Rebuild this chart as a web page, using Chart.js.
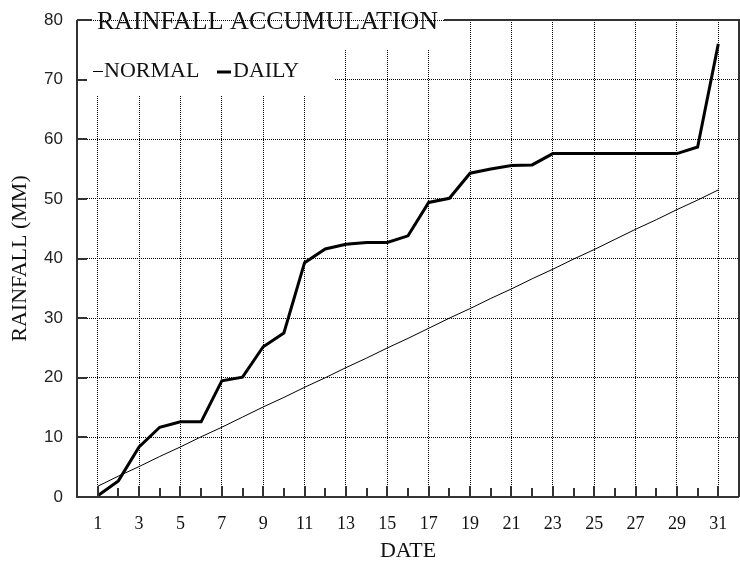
<!DOCTYPE html>
<html>
<head>
<meta charset="utf-8">
<script src="https://cdn.jsdelivr.net/npm/chart.js@4.4.0/dist/chart.umd.min.js"></script>
<style>
  html, body { margin: 0; padding: 0; background: #fff; }
  #wrap { width: 740px; height: 563px; }
</style>
</head>
<body>
<div id="wrap"><canvas id="chart"></canvas></div>
<script>
// day of month
var dates = [1, 2, 3, 4, 5, 6, 7, 8, 9, 10, 11, 12, 13, 14, 15, 16,
             17, 18, 19, 20, 21, 22, 23, 24, 25, 26, 27, 28, 29, 30, 31];
// accumulated normal rainfall (mm)
var normalRain = [1.8, 3.5, 5.1, 6.8, 8.4, 10.1, 11.7, 13.4, 15.1, 16.7, 18.4, 20.0, 21.7, 23.3, 25.0, 26.6,
                  28.3, 30.0, 31.6, 33.3, 34.9, 36.6, 38.2, 39.9, 41.5, 43.2, 44.9, 46.5, 48.2, 49.8, 51.5];
// accumulated daily rainfall (mm)
var dailyRain = [0.2, 2.7, 8.4, 11.7, 12.6, 12.6, 19.5, 20.1, 25.2, 27.5, 39.3, 41.6, 42.4, 42.7, 42.7, 43.8,
                 49.4, 50.1, 54.3, 55.0, 55.6, 55.7, 57.6, 57.6, 57.6, 57.6, 57.6, 57.6, 57.6, 58.7, 76.0];
var yTicks = [0, 10, 20, 30, 40, 50, 60, 70, 80];
var xLabels = [1, 3, 5, 7, 9, 11, 13, 15, 17, 19, 21, 23, 25, 27, 29, 31];

var SERIF = '"Liberation Serif", "DejaVu Serif", serif';

function toPoints(vals) {
    return dates.map(function (d, i) { return { x: d, y: vals[i] }; });
}

// frame, inward ticks, title and legend drawn like the old chart
var framePlugin = {
    id: 'frame',
    beforeDatasetsDraw: function (chart) {
        var c = chart.ctx, a = chart.chartArea;
        c.save();
        c.fillStyle = '#fff';
        // clear grid behind title and legend
        c.fillRect(a.left + 1, a.top + 1, 447 - a.left, 48 - a.top);
        c.fillRect(a.left + 1, a.top + 1, 334 - a.left, 95 - a.top);
        c.restore();
    },
    afterDraw: function (chart) {
        var c = chart.ctx, a = chart.chartArea;
        var xs = chart.scales.x, ys = chart.scales.y;
        c.save();
        c.strokeStyle = '#333';
        c.lineWidth = 2;
        c.beginPath();
        // left + bottom axis
        c.moveTo(a.left, a.top);
        c.lineTo(a.left, a.bottom);
        c.lineTo(a.right, a.bottom);
        // right border
        c.moveTo(a.right, a.bottom);
        c.lineTo(a.right, a.top);
        // top border, broken by the title
        c.lineTo(444, a.top);
        c.moveTo(a.left, a.top);
        c.lineTo(92, a.top);
        c.stroke();

        // inward ticks
        c.beginPath();
        yTicks.forEach(function (v) {
            var y = Math.round(ys.getPixelForValue(v));
            c.moveTo(a.left, y);
            c.lineTo(a.left + 10, y);
        });
        dates.forEach(function (d) {
            var x = Math.round(xs.getPixelForValue(d));
            c.moveTo(x, a.bottom);
            c.lineTo(x, a.bottom - (d % 2 === 1 ? 11 : 9));
        });
        c.stroke();

        // title
        c.fillStyle = '#111';
        c.textBaseline = 'middle';
        c.textAlign = 'left';
        c.font = '26px ' + SERIF;
        c.fillText('RAINFALL ACCUMULATION', 97, 22);

        // legend
        c.font = '22px ' + SERIF;
        c.lineWidth = 1;
        c.strokeStyle = '#000';
        c.beginPath();
        c.moveTo(93, 71.5);
        c.lineTo(103, 71.5);
        c.stroke();
        c.fillText('NORMAL', 104, 71);
        c.lineWidth = 3;
        c.beginPath();
        c.moveTo(217, 72);
        c.lineTo(231, 72);
        c.stroke();
        c.fillText('DAILY', 233, 71);
        c.restore();
    }
};

var ctx = document.getElementById('chart');
var chart = new Chart(ctx, {
    type: 'line',
    data: {
        datasets: [{
            label: 'NORMAL',
            data: toPoints(normalRain),
            borderColor: '#000',
            borderWidth: 1,
            pointRadius: 0,
            tension: 0,
            fill: false
        }, {
            label: 'DAILY',
            data: toPoints(dailyRain),
            borderColor: '#000',
            borderWidth: 3,
            pointRadius: 0,
            tension: 0,
            fill: false
        }]
    },
    options: {
        responsive: true,
        maintainAspectRatio: false,
        animation: false,
        layout: { padding: { top: 20, right: 1, left: 0, bottom: 0 } },
        plugins: {
            legend: { display: false },
            title: { display: false },
            tooltip: { enabled: false }
        },
        scales: {
            x: {
                type: 'linear',
                min: 0,
                max: 32,
                afterFit: function (s) {
                    s.height = 66;
                    s.paddingLeft = 0;
                    s.paddingRight = 0;
                },
                afterBuildTicks: function (s) {
                    s.ticks = [];
                    for (var i = 0; i <= 32; i++) s.ticks.push({ value: i });
                },
                ticks: {
                    autoSkip: false,
                    maxRotation: 0,
                    padding: 16,
                    color: '#111',
                    font: { family: SERIF, size: 18 },
                    callback: function (v) { return xLabels.indexOf(v) >= 0 ? String(v) : ''; }
                },
                grid: {
                    drawTicks: false,
                    color: function (c) {
                        var v = c.tick ? c.tick.value : 0;
                        return xLabels.indexOf(v) >= 0 ? '#000' : 'rgba(0,0,0,0)';
                    },
                    lineWidth: 1
                },
                border: { display: false, dash: [1, 1] },
                title: {
                    display: true,
                    text: 'DATE',
                    color: '#111',
                    font: { family: SERIF, size: 22, lineHeight: 1 },
                    padding: { top: 0, bottom: 1 }
                }
            },
            y: {
                min: 0,
                max: 80,
                afterFit: function (s) {
                    s.width = 77;
                    s.paddingTop = 0;
                    s.paddingBottom = 0;
                },
                afterBuildTicks: function (s) {
                    s.ticks = yTicks.map(function (v) { return { value: v }; });
                },
                ticks: {
                    padding: 14,
                    color: '#222',
                    font: { family: '"Liberation Sans", Arial, sans-serif', size: 17 }
                },
                grid: {
                    drawTicks: false,
                    color: '#000',
                    lineWidth: 1
                },
                border: { display: false, dash: [1, 1] },
                title: {
                    display: true,
                    text: 'RAINFALL (MM)',
                    color: '#111',
                    font: { family: SERIF, size: 22, lineHeight: 1 },
                    padding: { top: 9, bottom: 0 }
                }
            }
        }
    },
    plugins: [framePlugin]
});
</script>
</body>
</html>
